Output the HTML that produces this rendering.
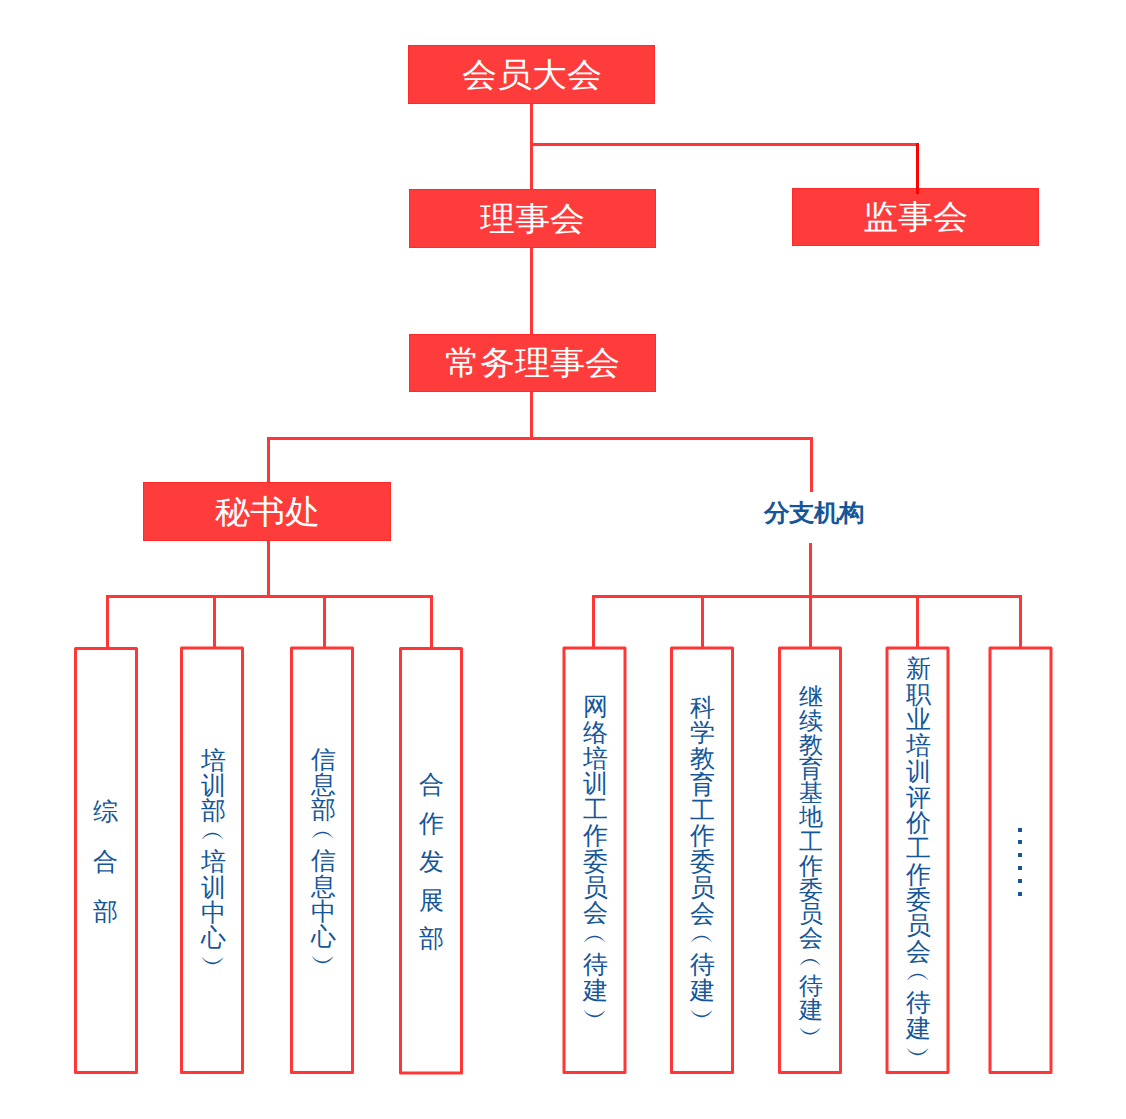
<!DOCTYPE html>
<html><head><meta charset="utf-8">
<style>
html,body{margin:0;padding:0;background:#fff;width:1126px;height:1119px;overflow:hidden;}
body{position:relative;font-family:"Liberation Sans",sans-serif;}
svg{position:absolute;left:0;top:0;}
.t{position:absolute;color:#fff;white-space:nowrap;text-align:center;transform:scaleY(0.94);}
.ob{position:relative;top:-4.5px;}
.v{position:absolute;color:#155699;width:30px;text-align:center;white-space:nowrap;}
</style></head><body>
<svg width="1126" height="1119" viewBox="0 0 1126 1119">
  <g fill="#ff3c3c" stroke="#ff2a2a" stroke-width="1">
    <rect x="408.5" y="45.5" width="246" height="58"/>
    <rect x="409.5" y="189.5" width="246" height="58"/>
    <rect x="792.5" y="188.5" width="246" height="57"/>
    <rect x="409.5" y="334.5" width="246" height="57"/>
    <rect x="143.5" y="482.5" width="247" height="58"/>
  </g>
  <g stroke="#ff3636" stroke-width="3" fill="none" stroke-linecap="butt">
    <line x1="531.5" y1="104" x2="531.5" y2="189"/>
    <line x1="531.5" y1="144.5" x2="919" y2="144.5"/>
    <line x1="531.5" y1="248" x2="531.5" y2="334"/>
    <line x1="531.5" y1="392" x2="531.5" y2="438"/>
    <line x1="267" y1="438.5" x2="813" y2="438.5"/>
    <line x1="268.5" y1="437" x2="268.5" y2="482"/>
    <line x1="811.5" y1="437" x2="811.5" y2="492"/>
    <line x1="810.5" y1="543" x2="810.5" y2="597"/>
    <line x1="268.5" y1="541" x2="268.5" y2="597"/>
    <line x1="106" y1="596.5" x2="433" y2="596.5"/>
    <line x1="107.5" y1="595" x2="107.5" y2="648"/>
    <line x1="214.5" y1="595" x2="214.5" y2="648"/>
    <line x1="324.5" y1="595" x2="324.5" y2="648"/>
    <line x1="431.5" y1="595" x2="431.5" y2="648"/>
    <line x1="592" y1="596.5" x2="1022" y2="596.5"/>
    <line x1="593.5" y1="595" x2="593.5" y2="648"/>
    <line x1="702.5" y1="595" x2="702.5" y2="648"/>
    <line x1="810.5" y1="595" x2="810.5" y2="648"/>
    <line x1="917.5" y1="595" x2="917.5" y2="648"/>
    <line x1="1020.5" y1="595" x2="1020.5" y2="648"/>
  </g>
  <line x1="917.5" y1="143" x2="917.5" y2="194" stroke="#ff0000" stroke-width="3"/>
  <g stroke="#ff3636" stroke-width="3" fill="none" stroke-linejoin="round">
    <rect x="75.5" y="648.5" width="61" height="424"/>
    <rect x="181.5" y="648" width="61" height="424.5"/>
    <rect x="291.5" y="648" width="61" height="424.5"/>
    <rect x="400.5" y="648.5" width="61" height="424.5"/>
    <rect x="564" y="648" width="61" height="424.5"/>
    <rect x="671.5" y="648" width="61" height="424.5"/>
    <rect x="779.5" y="648" width="61" height="424.5"/>
    <rect x="887" y="648" width="61" height="424.5"/>
    <rect x="990" y="648" width="61" height="424.5"/>
  </g>
  <g fill="#155699">
    <rect x="1018" y="828" width="4" height="4"/>
    <rect x="1018" y="840" width="4" height="4"/>
    <rect x="1018" y="853" width="4" height="4"/>
    <rect x="1018" y="866" width="4" height="4"/>
    <rect x="1018" y="879" width="4" height="4"/>
    <rect x="1018" y="892" width="4" height="4"/>
  </g>
</svg>
<div class="t" style="left:408px;top:45px;width:247px;height:59px;line-height:59px;font-size:35px">会员大会</div>
<div class="t" style="left:409px;top:189px;width:247px;height:59px;line-height:59px;font-size:35px">理事会</div>
<div class="t" style="left:792px;top:188px;width:247px;height:58px;line-height:58px;font-size:35px">监事会</div>
<div class="t" style="left:409px;top:334px;width:247px;height:58px;line-height:58px;font-size:35px">常务理事会</div>
<div class="t" style="left:143px;top:482px;width:248px;height:59px;line-height:59px;font-size:35px">秘书处</div>
<div class="t" style="left:713.5px;top:487.5px;width:200px;height:51px;line-height:51px;font-size:25.4px;font-weight:bold;color:#155699">分支机构</div>

<div class="v" style="left:90px;top:786px;font-size:25px;line-height:50px">综<br>合<br>部</div>
<div class="v" style="left:198px;top:747.5px;font-size:25px;line-height:25.4px">培<br>训<br>部<br><span class="ob">︵</span><br>培<br>训<br>中<br>心<br>︶</div>
<div class="v" style="left:308px;top:746.5px;font-size:25px;line-height:25.4px">信<br>息<br>部<br><span class="ob">︵</span><br>信<br>息<br>中<br>心<br>︶</div>
<div class="v" style="left:416.5px;top:765px;font-size:25px;line-height:38.6px">合<br>作<br>发<br>展<br>部</div>
<div class="v" style="left:580px;top:694px;font-size:25px;line-height:25.8px">网<br>络<br>培<br>训<br>工<br>作<br>委<br>员<br>会<br><span class="ob">︵</span><br>待<br>建<br>︶</div>
<div class="v" style="left:687px;top:694.5px;font-size:25px;line-height:25.8px">科<br>学<br>教<br>育<br>工<br>作<br>委<br>员<br>会<br><span class="ob">︵</span><br>待<br>建<br>︶</div>
<div class="v" style="left:796px;top:685px;font-size:24px;line-height:24.1px">继<br>续<br>教<br>育<br>基<br>地<br>工<br>作<br>委<br>员<br>会<br><span class="ob">︵</span><br>待<br>建<br>︶</div>
<div class="v" style="left:903px;top:656px;font-size:25px;line-height:25.7px">新<br>职<br>业<br>培<br>训<br>评<br>价<br>工<br>作<br>委<br>员<br>会<br><span class="ob">︵</span><br>待<br>建<br>︶</div>
</body></html>
